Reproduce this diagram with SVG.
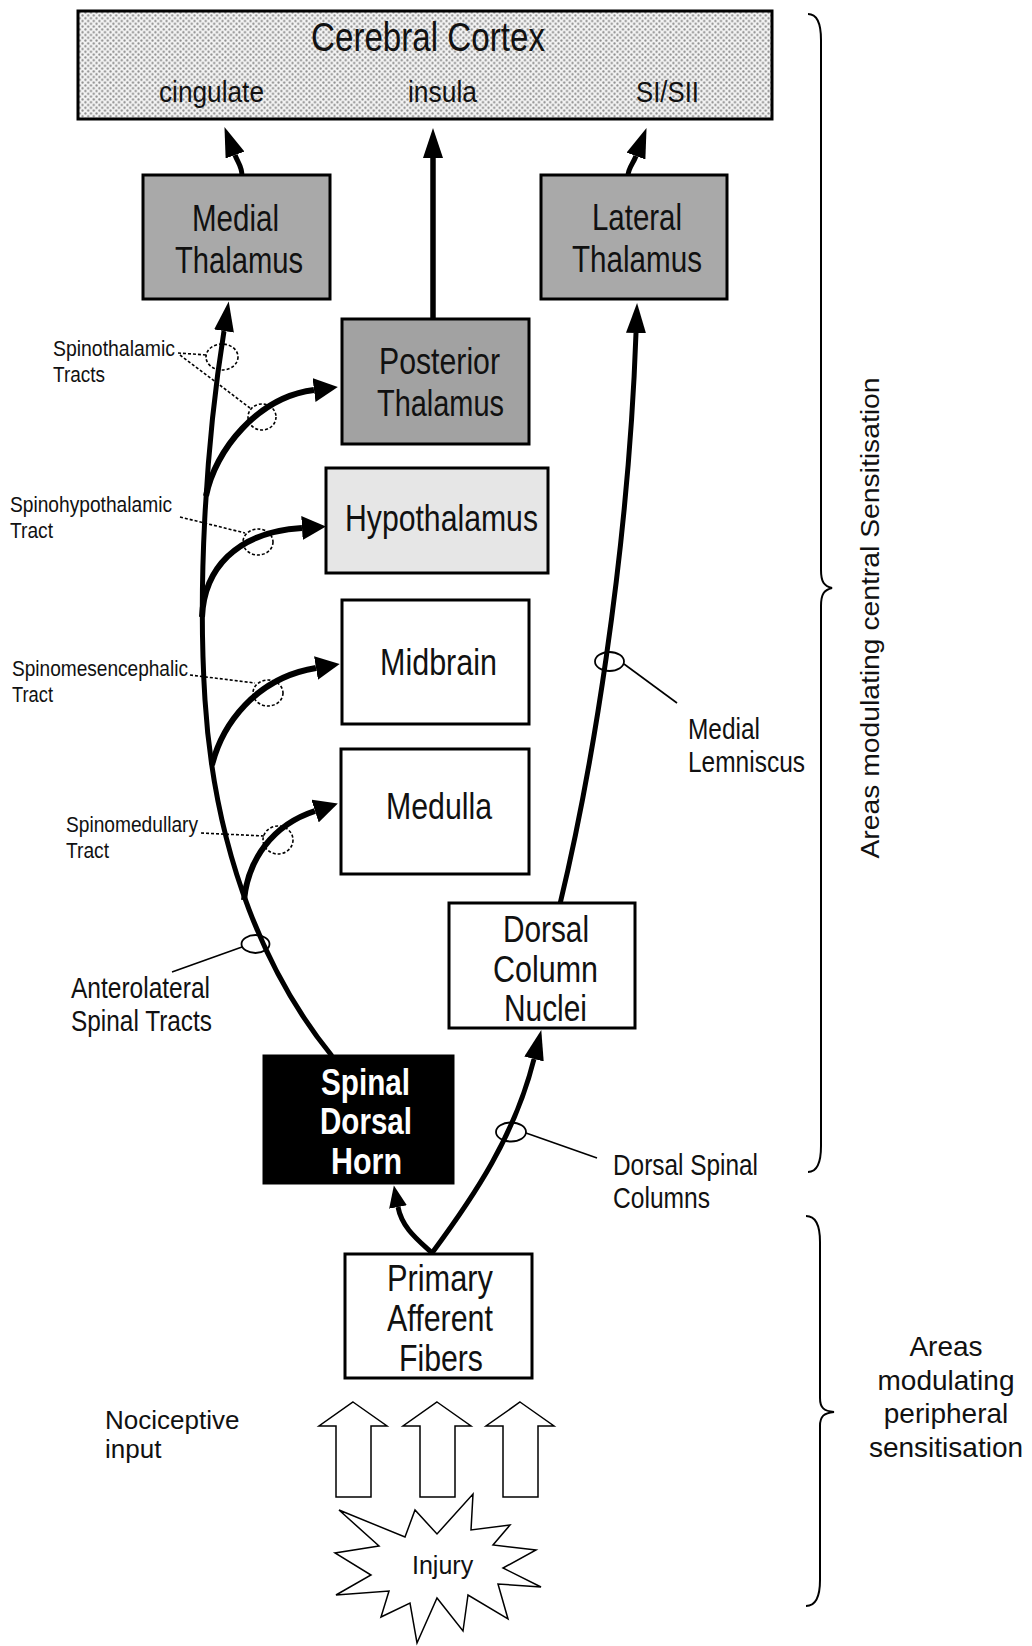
<svg xmlns="http://www.w3.org/2000/svg" width="1032" height="1646" viewBox="0 0 1032 1646">
  <style>
    .box { stroke: #000; stroke-width: 3; }
    .lbl { font-family: "Liberation Sans", Arial, sans-serif; fill: #111; }
    .big { font-size: 37px; }
    .small { font-size: 22px; }
    .mid { font-size: 29px; }
    .plain { font-family: "Liberation Sans", Arial, sans-serif; fill: #111; }
    .tract { fill: none; stroke: #000; stroke-width: 5; }
    .branch { fill: none; stroke: #000; stroke-width: 6; }
    .ring { fill: none; stroke: #000; stroke-width: 1.8; }
    .dashring { fill: none; stroke: #000; stroke-width: 1.6; stroke-dasharray: 3 2; }
    .leader { fill: none; stroke: #000; stroke-width: 1.6; }
    .dleader { fill: none; stroke: #000; stroke-width: 1.6; stroke-dasharray: 3 2; }
    .brace { fill: none; stroke: #000; stroke-width: 2; }
    .hollow { fill: #fff; stroke: #000; stroke-width: 1.5; }
    .inv { fill: #fff; font-weight: bold; }
  </style>
  <defs>
    <pattern id="dots" width="5.6" height="5.6" patternUnits="userSpaceOnUse">
      <rect width="5.6" height="5.6" fill="#f3f3f3"/>
      <circle cx="1.4" cy="1.4" r="1.1" fill="#8a8a8a"/>
      <circle cx="4.2" cy="4.2" r="1.1" fill="#8a8a8a"/>
    </pattern>
    <marker id="ahL" viewBox="0 0 30 20" markerWidth="30" markerHeight="20" refX="0" refY="10" orient="auto" markerUnits="userSpaceOnUse">
      <path d="M0,0 L30,10 L0,20 z" fill="#000"/>
    </marker>
    <marker id="ahB" viewBox="0 0 24 24" markerWidth="24" markerHeight="24" refX="0" refY="12" orient="auto" markerUnits="userSpaceOnUse">
      <path d="M0,0 L24,12 L0,24 z" fill="#000"/>
    </marker>
    <marker id="ahS" viewBox="0 0 22 18" markerWidth="22" markerHeight="18" refX="0" refY="9" orient="auto" markerUnits="userSpaceOnUse">
      <path d="M0,0 L22,9 L0,18 z" fill="#000"/>
    </marker>
    <path id="hollowArrow" d="M0,0 L34,24 L18,24 L18,95 L-17,95 L-17,24 L-34,24 z"/>
  </defs>

  <rect width="1032" height="1646" fill="#fff"/>

  <!-- connectors -->
  <g id="connectors">
    <!-- thalamus to cortex -->
    <path class="tract" d="M242,176 C242,166 238,163 235,155" marker-end="url(#ahL)"/>
    <path class="tract" d="M433,319 L433,158" style="stroke-width:5.5" marker-end="url(#ahL)"/>
    <path class="tract" d="M628,176 C628,168 633,164 636,156" marker-end="url(#ahL)"/>
    <!-- anterolateral spinal tracts -->
    <path class="tract" d="M332,1056 C270,980 215,860 205,700 C198,590 205,450 224,331" marker-end="url(#ahL)"/>
    <path class="branch" d="M206,496 C215,450 258,397 314,390" marker-end="url(#ahB)"/>
    <path class="branch" d="M202,617 C204,570 235,532 302,528" marker-end="url(#ahB)"/>
    <path class="branch" d="M212,765 C222,725 255,678 316,668" marker-end="url(#ahB)"/>
    <path class="branch" d="M244,900 C248,860 272,825 315,811" marker-end="url(#ahB)"/>
    <!-- medial lemniscus -->
    <path class="tract" d="M560,904 C590,780 628,560 636,333" marker-end="url(#ahL)"/>
    <!-- dorsal spinal columns and dorsal horn input -->
    <path class="tract" d="M432,1253 C475,1195 515,1135 534,1059" marker-end="url(#ahL)"/>
    <path class="tract" d="M432,1253 C418,1240 402,1228 398,1207" marker-end="url(#ahS)"/>

    <!-- tract markers -->
    <ellipse class="dashring" cx="222" cy="357" rx="16" ry="13"/>
    <ellipse class="dashring" cx="262" cy="417" rx="14" ry="13"/>
    <ellipse class="dashring" cx="258" cy="542" rx="15" ry="13"/>
    <ellipse class="dashring" cx="268" cy="693" rx="15" ry="13"/>
    <ellipse class="dashring" cx="278" cy="840" rx="15" ry="14"/>
    <path class="dleader" d="M178,353 L207,355"/>
    <path class="dleader" d="M180,355 L250,408"/>
    <path class="dleader" d="M180,517 L245,533"/>
    <path class="dleader" d="M190,675 L255,683"/>
    <path class="dleader" d="M201,833 L264,836"/>

    <ellipse class="ring" cx="255.5" cy="944" rx="14" ry="9"/>
    <path class="leader" d="M242,947 L172,972"/>
    <ellipse class="ring" cx="609.5" cy="661.5" rx="14.5" ry="9.5"/>
    <path class="leader" d="M624,664 L677,703"/>
    <ellipse class="ring" cx="511" cy="1132" rx="15" ry="9.5"/>
    <path class="leader" d="M526,1133 L597,1158"/>
  </g>

  <!-- nodes -->
  <g id="cerebral-cortex">
    <rect class="box" x="78" y="11" width="694" height="108" fill="url(#dots)"/>
    <text class="lbl" x="311" y="51" font-size="41" textLength="234" lengthAdjust="spacingAndGlyphs">Cerebral Cortex</text>
    <text class="lbl" x="159" y="102" font-size="30" textLength="105" lengthAdjust="spacingAndGlyphs">cingulate</text>
    <text class="lbl" x="408" y="102" font-size="30" textLength="69" lengthAdjust="spacingAndGlyphs">insula</text>
    <text class="lbl" x="636" y="102" font-size="30" textLength="63" lengthAdjust="spacingAndGlyphs">SI/SII</text>
  </g>

  <g id="medial-thalamus">
    <rect class="box" x="143" y="175" width="187" height="124" fill="#a9a9a9"/>
    <text class="lbl big" x="192" y="231" textLength="87" lengthAdjust="spacingAndGlyphs">Medial</text>
    <text class="lbl big" x="175" y="273" textLength="128" lengthAdjust="spacingAndGlyphs">Thalamus</text>
  </g>

  <g id="lateral-thalamus">
    <rect class="box" x="541" y="175" width="186" height="124" fill="#a9a9a9"/>
    <text class="lbl big" x="592" y="230" textLength="90" lengthAdjust="spacingAndGlyphs">Lateral</text>
    <text class="lbl big" x="572" y="272" textLength="130" lengthAdjust="spacingAndGlyphs">Thalamus</text>
  </g>

  <g id="posterior-thalamus">
    <rect class="box" x="342" y="319" width="187" height="125" fill="#a2a2a2"/>
    <text class="lbl big" x="379" y="374" textLength="121" lengthAdjust="spacingAndGlyphs">Posterior</text>
    <text class="lbl big" x="377" y="416" textLength="127" lengthAdjust="spacingAndGlyphs">Thalamus</text>
  </g>

  <g id="hypothalamus">
    <rect class="box" x="326" y="468" width="222" height="105" fill="#e6e6e6"/>
    <text class="lbl big" x="345" y="531" textLength="193" lengthAdjust="spacingAndGlyphs">Hypothalamus</text>
  </g>

  <g id="midbrain">
    <rect class="box" x="342" y="600" width="187" height="124" fill="#fff"/>
    <text class="lbl big" x="380" y="675" textLength="117" lengthAdjust="spacingAndGlyphs">Midbrain</text>
  </g>

  <g id="medulla">
    <rect class="box" x="341" y="749" width="188" height="125" fill="#fff"/>
    <text class="lbl big" x="386" y="819" textLength="106" lengthAdjust="spacingAndGlyphs">Medulla</text>
  </g>

  <g id="dorsal-column-nuclei">
    <rect class="box" x="449" y="903" width="186" height="125" fill="#fff"/>
    <text class="lbl big" x="503" y="942" textLength="86" lengthAdjust="spacingAndGlyphs">Dorsal</text>
    <text class="lbl big" x="493" y="982" textLength="105" lengthAdjust="spacingAndGlyphs">Column</text>
    <text class="lbl big" x="504" y="1021" textLength="83" lengthAdjust="spacingAndGlyphs">Nuclei</text>
  </g>

  <g id="spinal-dorsal-horn">
    <rect class="box" x="264" y="1056" width="189" height="127" fill="#000"/>
    <text class="lbl big inv" x="321" y="1095" textLength="89" lengthAdjust="spacingAndGlyphs">Spinal</text>
    <text class="lbl big inv" x="320" y="1134" textLength="92" lengthAdjust="spacingAndGlyphs">Dorsal</text>
    <text class="lbl big inv" x="331" y="1174" textLength="71" lengthAdjust="spacingAndGlyphs">Horn</text>
  </g>

  <g id="primary-afferent-fibers">
    <rect class="box" x="345" y="1254" width="187" height="124" fill="#fff"/>
    <text class="lbl big" x="387" y="1291" textLength="106" lengthAdjust="spacingAndGlyphs">Primary</text>
    <text class="lbl big" x="387" y="1331" textLength="106" lengthAdjust="spacingAndGlyphs">Afferent</text>
    <text class="lbl big" x="399" y="1371" textLength="84" lengthAdjust="spacingAndGlyphs">Fibers</text>
  </g>

  <!-- tract labels -->
  <g id="tract-labels">
    <text class="lbl small" x="53" y="356" textLength="122" lengthAdjust="spacingAndGlyphs">Spinothalamic</text>
    <text class="lbl small" x="53" y="382" textLength="52" lengthAdjust="spacingAndGlyphs">Tracts</text>
    <text class="lbl small" x="10" y="512" textLength="162" lengthAdjust="spacingAndGlyphs">Spinohypothalamic</text>
    <text class="lbl small" x="10" y="538" textLength="43" lengthAdjust="spacingAndGlyphs">Tract</text>
    <text class="lbl small" x="12" y="676" textLength="176" lengthAdjust="spacingAndGlyphs">Spinomesencephalic</text>
    <text class="lbl small" x="12" y="702" textLength="41" lengthAdjust="spacingAndGlyphs">Tract</text>
    <text class="lbl small" x="66" y="832" textLength="132" lengthAdjust="spacingAndGlyphs">Spinomedullary</text>
    <text class="lbl small" x="66" y="858" textLength="43" lengthAdjust="spacingAndGlyphs">Tract</text>
    <text class="lbl mid" x="71" y="998" textLength="139" lengthAdjust="spacingAndGlyphs">Anterolateral</text>
    <text class="lbl mid" x="71" y="1031" textLength="141" lengthAdjust="spacingAndGlyphs">Spinal Tracts</text>
    <text class="lbl mid" x="688" y="739" textLength="72" lengthAdjust="spacingAndGlyphs">Medial</text>
    <text class="lbl mid" x="688" y="772" textLength="117" lengthAdjust="spacingAndGlyphs">Lemniscus</text>
    <text class="lbl mid" x="613" y="1175" textLength="145" lengthAdjust="spacingAndGlyphs">Dorsal Spinal</text>
    <text class="lbl mid" x="613" y="1208" textLength="97" lengthAdjust="spacingAndGlyphs">Columns</text>
  </g>

  <!-- nociceptive input from injury -->
  <g id="nociceptive-input">
    <use href="#hollowArrow" class="hollow" x="353" y="1402"/>
    <use href="#hollowArrow" class="hollow" x="437" y="1402"/>
    <use href="#hollowArrow" class="hollow" x="520" y="1402"/>
    <text class="plain" x="105" y="1429" font-size="26">Nociceptive</text>
    <text class="plain" x="105" y="1458" font-size="26">input</text>
  </g>

  <g id="injury">
    <polygon class="hollow" points="339,1510 405,1537 415,1510 437,1534 473,1494 471,1530 510,1525 493,1545 536,1550 503,1568 541,1587 498,1584 508,1619 468,1595 463,1631 437,1598 417,1643 410,1603 381,1617 389,1591 336,1595 371,1575 335,1553 379,1546"/>
    <text class="plain" x="412" y="1574" font-size="25">Injury</text>
  </g>

  <!-- region braces -->
  <g id="central-region">
    <path class="brace" d="M808,14 C818,14 821,24 821,40 L821,570 C821,582 824,586 832,588 C824,590 821,594 821,606 L821,1146 C821,1162 818,1172 808,1172"/>
    <text class="plain" transform="translate(879,618) rotate(-90)" text-anchor="middle" font-size="26" textLength="481" lengthAdjust="spacingAndGlyphs">Areas modulating central Sensitisation</text>
  </g>

  <g id="peripheral-region">
    <path class="brace" d="M806,1216 C816,1216 820,1226 820,1242 L820,1398 C820,1408 824,1411 834,1412 C824,1413 820,1416 820,1426 L820,1580 C820,1596 816,1606 806,1606"/>
    <text class="plain" x="946" y="1356" font-size="28" text-anchor="middle">Areas</text>
    <text class="plain" x="946" y="1390" font-size="28" text-anchor="middle">modulating</text>
    <text class="plain" x="946" y="1423" font-size="28" text-anchor="middle">peripheral</text>
    <text class="plain" x="946" y="1457" font-size="28" text-anchor="middle">sensitisation</text>
  </g>
</svg>
